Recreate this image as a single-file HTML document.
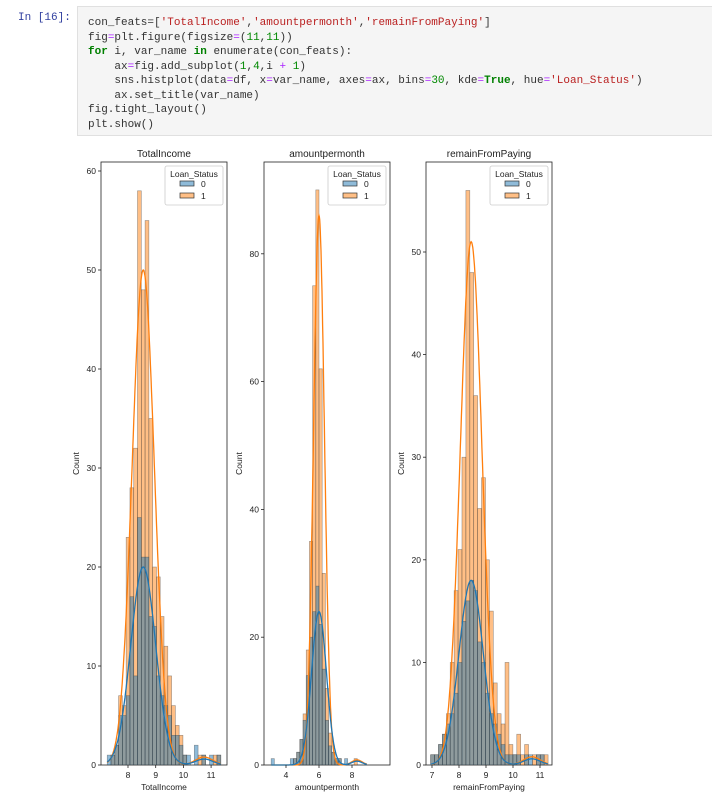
<!DOCTYPE html><html><head><meta charset="utf-8"><style>
body{margin:0;background:#fff;width:712px;height:807px;overflow:hidden;font-family:"Liberation Sans",sans-serif}
.pr{position:absolute;left:18px;top:12px;font:11px "Liberation Mono",monospace;color:#303f9f}
.cell{position:absolute;left:77px;top:6px;width:640px;height:130px;background:#f5f5f5;border:1px solid #e0e0e0;box-sizing:border-box}
pre{margin:0;position:absolute;left:10px;top:9px;font:11px/14.5px "Liberation Mono",monospace;color:#333}
.k{color:#008000;font-weight:bold}.s{color:#ba2121}.o{color:#aa22ff}.n{color:#080}
</style></head><body>
<div class="pr">In [16]:</div>
<div class="cell"><pre>con_feats=[<span class="s">'TotalIncome'</span>,<span class="s">'amountpermonth'</span>,<span class="s">'remainFromPaying'</span>]
fig<span class="o">=</span>plt.figure(figsize<span class="o">=</span>(<span class="n">11</span>,<span class="n">11</span>))
<span class="k">for</span> i, var_name <span class="k">in</span> enumerate(con_feats):
    ax<span class="o">=</span>fig.add_subplot(<span class="n">1</span>,<span class="n">4</span>,i <span class="o">+</span> <span class="n">1</span>)
    sns.histplot(data<span class="o">=</span>df, x<span class="o">=</span>var_name, axes<span class="o">=</span>ax, bins<span class="o">=</span><span class="n">30</span>, kde<span class="o">=</span><span class="k">True</span>, hue<span class="o">=</span><span class="s">'Loan_Status'</span>)
    ax.set_title(var_name)
fig.tight_layout()
plt.show()</pre></div>
<svg id="s" width="712" height="807" style="position:absolute;left:0;top:0"></svg>
<script>
var svg=document.getElementById('s'),h='';
var P=[
 {l:101,r:227,t:162,b:765,ys:9.9,yt:[0,10,20,30,40,50,60],x0:7.25,x1:11.35,xa:128,xu:27.7,xo:8,xt:[8,9,10,11],mu:8.55,sb:0.45,pb:20,so:0.4,po:50,title:'TotalIncome',
  O:[0,1,2,7,6,23,28,32,58,48,55,35,20,19,15,12,9,6,4,3,1,0,0,0,1,1,0,0,1,1],
  B:[1,1,2,5,5,7,17,9,25,21,21,15,14,9,7,6,5,3,3,2,1,1,0,2,0,1,0,1,0,1]},
 {l:264,r:390,t:162,b:765,ys:6.39,yt:[0,20,40,60,80],x0:3.1,x1:8.9,xa:286,xu:16.5,xo:4,xt:[4,6,8],mu:6.0,sb:0.45,pb:24,so:0.33,po:86,title:'amountpermonth',
  O:[0,0,0,0,0,0,0,1,2,4,8,18,35,75,90,62,30,12,5,2,1,1,0,0,0,0,1,0,0,0],
  B:[1,0,0,0,0,0,1,1,2,4,7,14,20,24,28,22,15,7,3,2,1,1,0,1,0,0,0,0,0,0]},
 {l:426,r:552,t:162,b:765,ys:10.26,yt:[0,10,20,30,40,50],x0:6.95,x1:11.3,xa:432,xu:27,xo:7,xt:[7,8,9,10,11],mu:8.45,sb:0.45,pb:18,so:0.4,po:51,title:'remainFromPaying',
  O:[1,1,2,3,5,10,17,21,30,56,48,36,25,28,20,15,8,5,4,10,2,1,3,1,2,0,1,1,1,1],
  B:[1,1,2,3,4,5,7,10,14,16,18,17,12,10,7,5,4,3,2,1,1,1,1,0,1,1,0,1,1,0]}];
P.forEach(function(p,pi){
 var X=function(v){return p.xa+(v-p.xo)*p.xu},Y=function(c){return p.b-c*p.ys};
 h+='<rect x="'+p.l+'" y="'+p.t+'" width="'+(p.r-p.l)+'" height="'+(p.b-p.t)+'" fill="none" stroke="#222" stroke-width="0.8"/>';
 var w=(p.x1-p.x0)/30,bl='',or='';
 for(var i=0;i<30;i++){var nb=p.B[i],no=p.O[i];
  var xx=X(p.x0+i*w),ww=w*p.xu;
  if(no>0)or+='<rect x="'+xx+'" y="'+Y(no)+'" width="'+ww+'" height="'+no*p.ys+'" fill="rgba(255,127,14,0.5)" stroke="rgba(60,60,60,0.5)" stroke-width="0.6"/>';
  if(nb>0)bl+='<rect x="'+xx+'" y="'+Y(nb)+'" width="'+ww+'" height="'+nb*p.ys+'" fill="rgba(31,119,180,0.5)" stroke="rgba(60,60,60,0.5)" stroke-width="0.6"/>';
 }
 h+=or+bl;
 var kb='',ko='';
 for(var v=p.x0;v<=p.x1;v+=0.02){var d=v-p.mu;
  kb+=(kb?'L':'M')+X(v).toFixed(1)+','+Y(p.pb*Math.exp(-d*d/(2*p.sb*p.sb))+0.6*Math.exp(-Math.pow(v-p.x1+0.6,2)/0.2)).toFixed(1);
  ko+=(ko?'L':'M')+X(v).toFixed(1)+','+Y(p.po*Math.exp(-d*d/(2*p.so*p.so))+0.8*Math.exp(-Math.pow(v-p.x1+0.6,2)/0.2)).toFixed(1);}
 h+='<path d="'+ko+'" fill="none" stroke="#ff7f0e" stroke-width="1.3"/><path d="'+kb+'" fill="none" stroke="#1f77b4" stroke-width="1.3"/>';
 p.yt.forEach(function(t){var y=Y(t);h+='<line x1="'+(p.l-3)+'" x2="'+p.l+'" y1="'+y+'" y2="'+y+'" stroke="#222" stroke-width="0.8"/><text x="'+(p.l-5)+'" y="'+(y+3)+'" font-size="8.5" text-anchor="end" fill="#222">'+t+'</text>';});
 p.xt.forEach(function(t){var x=X(t);h+='<line x1="'+x+'" x2="'+x+'" y1="'+p.b+'" y2="'+(p.b+3)+'" stroke="#222" stroke-width="0.8"/><text x="'+x+'" y="'+(p.b+13)+'" font-size="8.5" text-anchor="middle" fill="#222">'+t+'</text>';});
 var cx=(p.l+p.r)/2;
 h+='<text x="'+cx+'" y="157" font-size="10" text-anchor="middle" fill="#222">'+p.title+'</text>';
 h+='<text x="'+cx+'" y="790" font-size="8.5" text-anchor="middle" fill="#222">'+p.title+'</text>';
 h+='<text x="'+(p.l-22)+'" y="'+((p.t+p.b)/2)+'" font-size="8.5" text-anchor="middle" fill="#222" transform="rotate(-90 '+(p.l-22)+' '+((p.t+p.b)/2)+')">Count</text>';
 var lx=p.r-62,ly=166;
 h+='<rect x="'+lx+'" y="'+ly+'" width="58" height="39" rx="2" fill="#fff" fill-opacity="0.8" stroke="#ccc" stroke-width="0.8"/>';
 h+='<text x="'+(lx+29)+'" y="'+(ly+11)+'" font-size="8.5" text-anchor="middle" fill="#222">Loan_Status</text>';
 h+='<rect x="'+(lx+15)+'" y="'+(ly+15)+'" width="14" height="5" fill="rgba(31,119,180,0.5)" stroke="#333" stroke-width="0.7"/><text x="'+(lx+36)+'" y="'+(ly+21)+'" font-size="8.5" fill="#222">0</text>';
 h+='<rect x="'+(lx+15)+'" y="'+(ly+27)+'" width="14" height="5" fill="rgba(255,127,14,0.5)" stroke="#333" stroke-width="0.7"/><text x="'+(lx+36)+'" y="'+(ly+33)+'" font-size="8.5" fill="#222">1</text>';
});
svg.innerHTML=h;
</script></body></html>
